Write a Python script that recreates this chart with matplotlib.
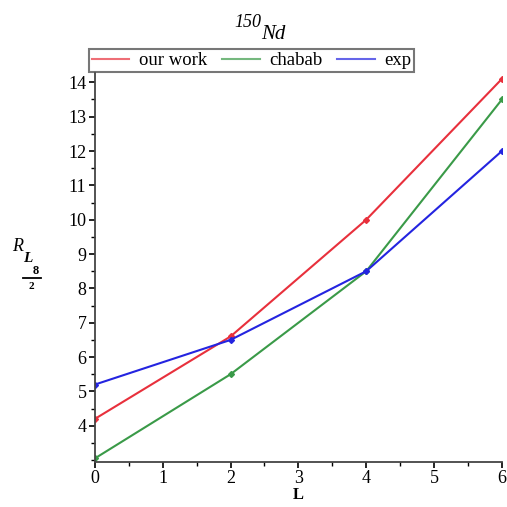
import matplotlib.pyplot as plt
from matplotlib.lines import Line2D
from matplotlib.ticker import MultipleLocator

# spin values and ratios
L = [0, 2, 4, 6]
our_work = [4.2, 6.6, 10.0, 14.1]
chabab = [3.05, 5.5, 8.5, 13.5]
exp = [5.2, 6.5, 8.5, 12.0]

series = [("our work", our_work, '#e8303c'),
          ("chabab", chabab, '#3a9a48'),
          ("exp", exp, '#2424e0')]

plt.rcParams['font.family'] = ['Liberation Serif', 'DejaVu Serif']

fig = plt.figure(figsize=(5.07, 5.07), dpi=100)
ax = fig.add_axes([0.187, 0.089, 0.803, 0.769])

handles = []
for name, vals, col in series:
    ax.plot(L, vals, color=col, lw=1.5, marker='D', ms=3)
    handles.append(Line2D([], [], color=col, lw=1.5, alpha=0.7, label=name))

ax.set_xlim(0, 6)
ax.set_ylim(2.95, 14.3)
ax.xaxis.set_major_locator(MultipleLocator(1))
ax.xaxis.set_minor_locator(MultipleLocator(0.5))
ax.yaxis.set_minor_locator(MultipleLocator(0.5))
ax.set_yticks(range(4, 15))
ax.tick_params(labelsize=13, width=1.2, length=4, pad=2)
ax.tick_params(which='minor', width=1.0, length=3)

for s in ['top', 'right']:
    ax.spines[s].set_visible(False)
for s in ['left', 'bottom']:
    ax.spines[s].set_linewidth(1.3)
    ax.spines[s].set_color('#444444')

ax.set_xlabel('L', fontsize=12, labelpad=0, fontweight='bold')

# y label R_{L_{8/2}} built from pieces
fig.text(0.034, 0.513, 'R', fontsize=13, style='italic', ha='center', va='center')
fig.text(0.055, 0.491, 'L', fontsize=11, style='italic', fontweight='bold', ha='center', va='center')
fig.text(0.071, 0.466, '8', fontsize=9, fontweight='bold', ha='center', va='center')
fig.add_artist(Line2D([0.045, 0.080], [0.451, 0.451], color='black', lw=1.3))
fig.text(0.061, 0.434, '2', fontsize=8, fontweight='bold', ha='center', va='center')

# title 150Nd
fig.text(0.516, 0.955, '150', fontsize=13, style='italic', ha='right', va='center')
fig.text(0.516, 0.932, 'Nd', fontsize=15, style='italic', ha='left', va='center')

leg = ax.legend(handles=handles, loc='lower center', bbox_to_anchor=(0.385, 0.995), ncol=3,
                fontsize=13.5, frameon=True, fancybox=False, edgecolor='#555555',
                borderpad=0.15, handlelength=2.0, columnspacing=0.8, handletextpad=0.5,
                borderaxespad=0.1)
leg.get_frame().set_linewidth(1.5)

fig.savefig('out.png', dpi=100)
